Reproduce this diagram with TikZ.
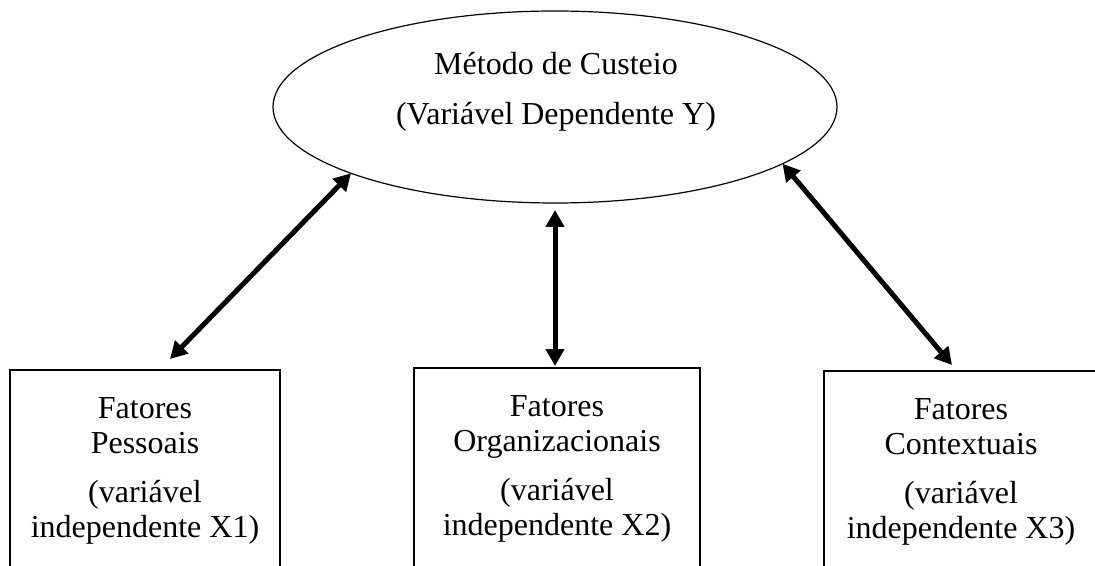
\documentclass[tikz,border=0pt]{standalone}
\usepackage{fontspec}
\setmainfont{Liberation Serif}
\usetikzlibrary{arrows.meta,shapes.geometric}

\begin{document}
\begin{tikzpicture}[
		x=0.5pt,y=-0.5pt,
		every node/.style={font=\fontsize{16}{17.5}\selectfont,align=center,outer sep=0pt},
		fator/.style={rectangle,draw=black,line width=0.8pt,minimum height=101pt},
		arr/.style={{Triangle[length=8.5pt,width=9pt]}-{Triangle[length=8.5pt,width=9pt]},line width=2.5pt}
	]
		\useasboundingbox (0,0) rectangle (1095,566);
		\clip (0,0) rectangle (1095,566);

		\node[ellipse,draw=black,line width=0.6pt,minimum width=282pt,minimum height=96pt] (Y) at (555,107) {};
		\node[anchor=base] (Ytxt) at (556,125) {Método de Custeio\\[7.5pt](Variável Dependente Y)};
		\node[fator,minimum width=135pt] (X1) at (145,471) {Fatores\\Pessoais\\[7pt](variável\\independente X1)};
		\node[fator,minimum width=143pt] (X2) at (557,469) {Fatores\\Organizacionais\\[7pt](variável\\independente X2)};
		\node[fator,minimum width=137pt] (X3) at (961,472) {Fatores\\Contextuais\\[7pt](variável\\independente X3)};
		\draw[arr] (Y.198) -- ([xshift=12.5pt,yshift=5.5pt]X1.north);
		\draw[arr,shorten <=3.5pt,shorten >=1pt] (Y.south) -- (Y.south |- X2.north);
		\draw[arr] (Y.-14) -- ([xshift=-4.5pt,yshift=3pt]X3.north);
	\end{tikzpicture}
\end{document}
